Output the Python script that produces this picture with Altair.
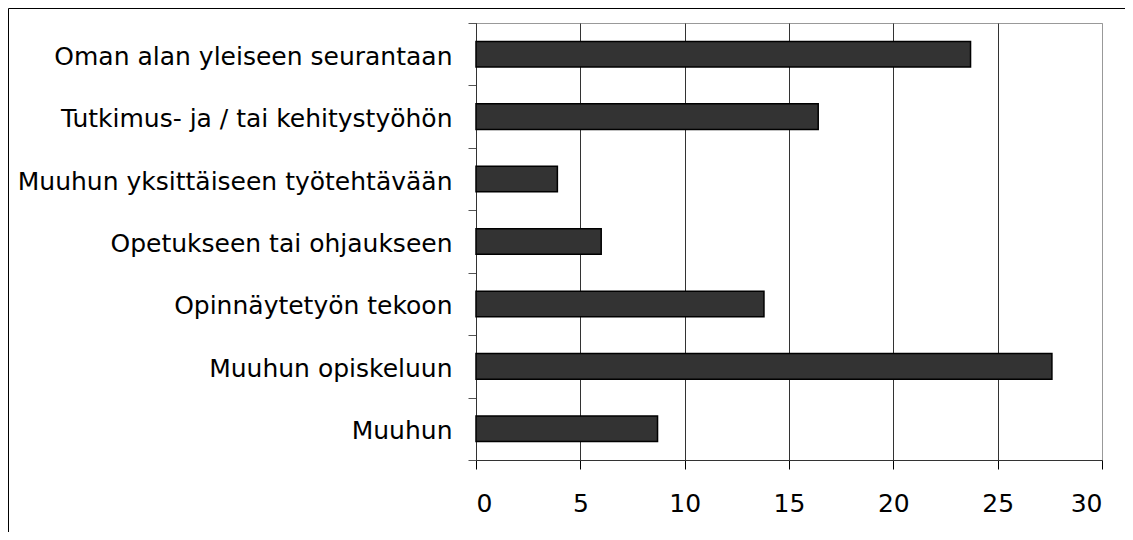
import altair as alt
import pandas as pd

categories = [
    "Oman alan yleiseen seurantaan",
    "Tutkimus- ja / tai kehitystyöhön",
    "Muuhun yksittäiseen työtehtävään",
    "Opetukseen tai ohjaukseen",
    "Opinnäytetyön tekoon",
    "Muuhun opiskeluun",
    "Muuhun",
]
values = [23.7, 16.4, 3.9, 6.0, 13.8, 27.6, 8.7]
x_ticks = [0, 5, 10, 15, 20, 25, 30]

df = pd.DataFrame({"category": categories, "value": values})

FONT = "DejaVu Sans"
W, H = 626, 437

bars = alt.Chart(df).mark_bar(
    fill="#333333", stroke="#000000", strokeWidth=1.5, height={"band": 0.41}
).encode(
    x=alt.X(
        "value:Q",
        scale=alt.Scale(domain=[0, 30], nice=False, zero=True),
        axis=alt.Axis(
            values=x_ticks,
            title=None,
            grid=True,
            gridColor=alt.condition("datum.value == 30", alt.value("#999999"), alt.value("#333333")),
            gridWidth=1,
            tickSize=9,
            tickColor="#000000",
            domainColor="#333333",
            labelFont=FONT,
            labelFontSize=25,
            labelColor="#000000",
            labelPadding=22,
        ),
    ),
    y=alt.Y(
        "category:N",
        sort=categories,
        title=None,
        scale=alt.Scale(paddingInner=0, paddingOuter=0),
        axis=alt.Axis(
            tickBand="extent",
            tickSize=8,
            tickColor="#555555",
            domainColor="#333333",
            labelFont=FONT,
            labelFontSize=25,
            labelColor="#000000",
            labelPadding=16,
            labelOffset=2,
            labelLimit=0,
        ),
    ),
)

frame = alt.Chart(pd.DataFrame({"k": [0]})).mark_rect(
    fill=None, stroke="#000000", strokeWidth=1
).encode(
    x=alt.value(-467.5),
    y=alt.value(-14.5),
    x2=alt.value(W + 200),
    y2=alt.value(H + 200),
)

chart = alt.layer(frame, bars).properties(
    width=W,
    height=H,
    padding={"left": 468, "top": 15, "right": 23, "bottom": 72},
    autosize=alt.AutoSizeParams(type="none"),
    background="white",
).configure_view(
    stroke="#999999", strokeWidth=1
)

chart.save("out.html", embed_options={"renderer": "svg", "actions": False})
